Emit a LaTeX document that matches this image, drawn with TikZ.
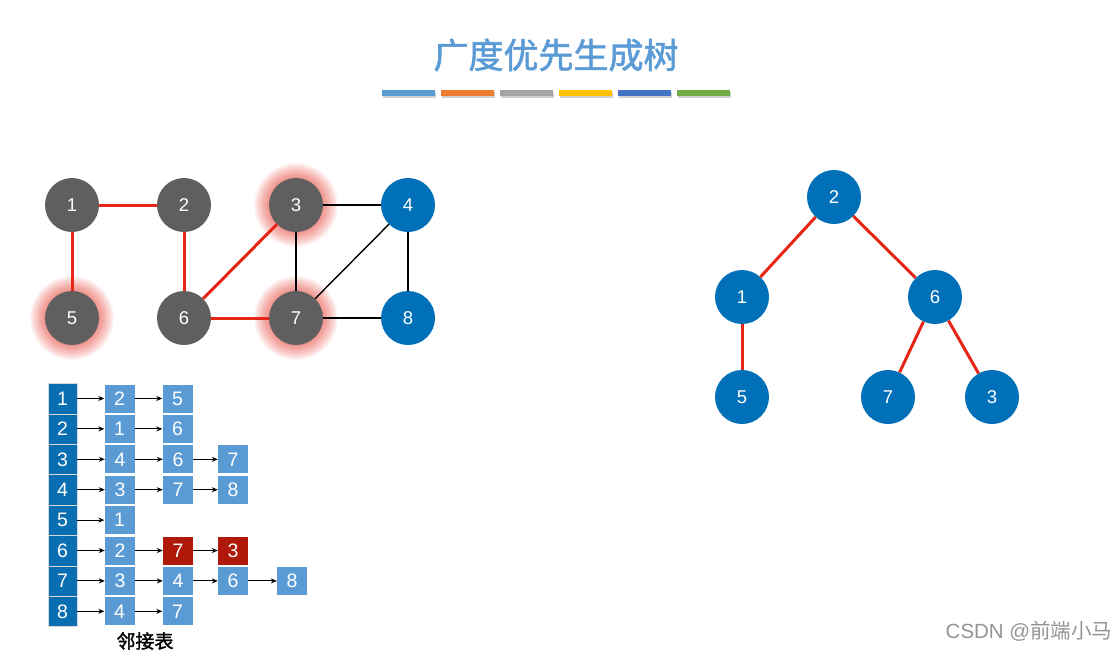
\documentclass[tikz,border=0pt]{standalone}
\usepackage{fontspec}
\setmainfont{Liberation Sans}
\newfontfamily\cjk{Noto Sans CJK SC}
\newfontfamily\cjkbold[FakeBold=1.6]{Noto Sans CJK SC}
\usetikzlibrary{arrows.meta}
\definecolor{vgray}{RGB}{95,95,95}
\definecolor{vblue}{RGB}{0,112,184}
\definecolor{ered}{RGB}{232,38,24}
\definecolor{hblue}{RGB}{10,110,178}
\definecolor{lblue}{RGB}{91,155,213}
\definecolor{dred}{RGB}{176,24,10}
\definecolor{cbA}{RGB}{91,155,213}
\definecolor{cbB}{RGB}{237,125,49}
\definecolor{cbC}{RGB}{165,165,165}
\definecolor{cbD}{RGB}{255,192,0}
\definecolor{cbE}{RGB}{68,114,196}
\definecolor{cbF}{RGB}{112,173,71}
\begin{document}
\begin{tikzpicture}[x=1pt,y=-1pt,
  vert/.style={circle,minimum size=54pt,inner sep=0pt,text=white,font=\fontsize{18.5}{18.5}\selectfont},
  grayv/.style={vert,fill=vgray},
  bluev/.style={vert,fill=vblue},
  redge/.style={draw=ered,line width=3pt},
  bedge/.style={draw=black,line width=1.4pt},
  head/.style={rectangle,minimum width=29pt,minimum height=30.4pt,inner sep=0pt,fill=hblue,draw=black!15,line width=0.4pt,text=white,font=\fontsize{19.5}{19.5}\selectfont},
  cell/.style={rectangle,minimum width=30pt,minimum height=28pt,inner sep=0pt,fill=lblue,text=white,font=\fontsize{19.5}{19.5}\selectfont},
  rcell/.style={cell,fill=dred},
  link/.style={-{Stealth[length=6pt,width=5pt]},line width=0.9pt},
  bar/.style={minimum width=53pt,minimum height=5.5pt,inner sep=0pt}
]
\useasboundingbox (0,0) rectangle (1118,651);
\fill[white] (0,0) rectangle (1118,651);

% title
\node (title) at (556,55) {\cjkbold\fontsize{35}{35}\selectfont\color{cbA}广度优先生成树};
\foreach \c [count=\i] in {cbA,cbB,cbC,cbD,cbE,cbF}{
  \fill[black,opacity=0.18] (382+59*\i-59+1,91.5) rectangle ++(53,6);
  \node[bar,fill=\c] (bar\i) at (408.5+59*\i-59,93) {};
}

% left graph coordinates
\coordinate (p1) at (72,205);
\coordinate (p2) at (184,205);
\coordinate (p3) at (296,205);
\coordinate (p4) at (408,205);
\coordinate (p5) at (72,318);
\coordinate (p6) at (184,318);
\coordinate (p7) at (296,318);
\coordinate (p8) at (408,318);

% glow
\foreach \p in {p3,p5,p7}{
  \foreach \k in {1,...,16}{
    \fill[ered,opacity=0.04] (\p) circle[radius={26pt+\k pt}];
  }
}

\node[grayv] (g1) at (p1) {1};
\node[grayv] (g2) at (p2) {2};
\node[grayv] (g3) at (p3) {3};
\node[bluev] (g4) at (p4) {4};
\node[grayv] (g5) at (p5) {5};
\node[grayv] (g6) at (p6) {6};
\node[grayv] (g7) at (p7) {7};
\node[bluev] (g8) at (p8) {8};

\draw[redge] (g1) -- (g2);
\draw[redge] (g1) -- (g5);
\draw[redge] (g2) -- (g6);
\draw[redge] (g3) -- (g6);
\draw[redge] (g6) -- (g7);
\draw[bedge] (g3) -- (g4);
\draw[bedge] (g3) -- (g7);
\draw[bedge] (g4) -- (g7);
\draw[bedge] (g4) -- (g8);
\draw[bedge] (g7) -- (g8);

% tree
\node[bluev] (t2) at (834,197) {2};
\node[bluev] (t1) at (742,297) {1};
\node[bluev] (t6) at (935,297) {6};
\node[bluev] (t5) at (742,397) {5};
\node[bluev] (t7) at (888,397) {7};
\node[bluev] (t3) at (992,397) {3};
\draw[redge] (t2) -- (t1);
\draw[redge] (t2) -- (t6);
\draw[redge] (t1) -- (t5);
\draw[redge] (t6) -- (t7);
\draw[redge] (t6) -- (t3);

% adjacency list
\foreach \i in {1,...,8}{
  \node[head] (h\i) at (62.5,{398.5+30.4*(\i-1)}) {\i};
}
\def\ry#1{398.5+30.4*(#1-1)}
% row 1
\node[cell] (c11) at (119.5,{\ry{1}}) {2};
\node[cell] (c12) at (177.5,{\ry{1}}) {5};
% row 2
\node[cell] (c21) at (119.5,{\ry{2}}) {1};
\node[cell] (c22) at (177.5,{\ry{2}}) {6};
% row 3
\node[cell] (c31) at (120,{\ry{3}}) {4};
\node[cell] (c32) at (178,{\ry{3}}) {6};
\node[cell] (c33) at (233,{\ry{3}}) {7};
% row 4
\node[cell] (c41) at (120,{\ry{4}}) {3};
\node[cell] (c42) at (178,{\ry{4}}) {7};
\node[cell] (c43) at (233,{\ry{4}}) {8};
% row 5
\node[cell] (c51) at (119.5,{\ry{5}}) {1};
% row 6
\node[cell] (c61) at (120,{\ry{6}}) {2};
\node[rcell] (c62) at (178,{\ry{6}}) {7};
\node[rcell] (c63) at (233,{\ry{6}}) {3};
% row 7
\node[cell] (c71) at (120,{\ry{7}}) {3};
\node[cell] (c72) at (178,{\ry{7}}) {4};
\node[cell] (c73) at (233,{\ry{7}}) {6};
\node[cell] (c74) at (292,{\ry{7}}) {8};
% row 8
\node[cell] (c81) at (119.5,{\ry{8}}) {4};
\node[cell] (c82) at (177.5,{\ry{8}}) {7};

\draw[link] (h1.east) -- (c11.west);
\draw[link] (c11.east) -- (c12.west);
\draw[link] (h2.east) -- (c21.west);
\draw[link] (c21.east) -- (c22.west);
\draw[link] (h3.east) -- (c31.west);
\draw[link] (c31.east) -- (c32.west);
\draw[link] (c32.east) -- (c33.west);
\draw[link] (h4.east) -- (c41.west);
\draw[link] (c41.east) -- (c42.west);
\draw[link] (c42.east) -- (c43.west);
\draw[link] (h5.east) -- (c51.west);
\draw[link] (h6.east) -- (c61.west);
\draw[link] (c61.east) -- (c62.west);
\draw[link] (c62.east) -- (c63.west);
\draw[link] (h7.east) -- (c71.west);
\draw[link] (c71.east) -- (c72.west);
\draw[link] (c72.east) -- (c73.west);
\draw[link] (c73.east) -- (c74.west);
\draw[link] (h8.east) -- (c81.west);
\draw[link] (c81.east) -- (c82.west);

\node (cap) at (145,641) {\cjkbold\fontsize{19}{19}\selectfont 邻接表};

% watermark
\node[text=black!42] (wm) at (1029,631) {\fontsize{20.5}{20.5}\selectfont CSDN @\cjk 前端小马};
\end{tikzpicture}
\end{document}
